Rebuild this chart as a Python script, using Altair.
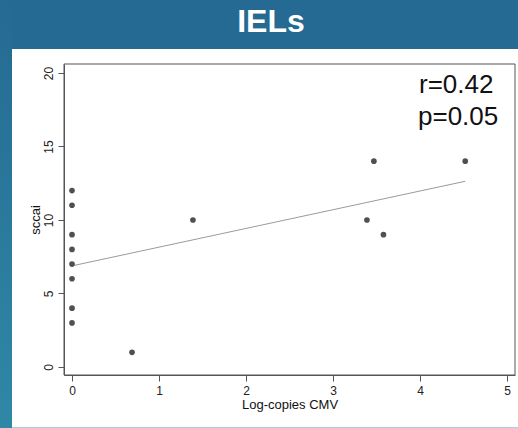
import altair as alt
import pandas as pd

# Data
log_copies_cmv = [0, 0, 0, 0, 0, 0, 0, 0, 0.69, 1.39, 3.39, 3.47, 3.58, 4.52]
sccai = [12, 11, 9, 8, 7, 6, 4, 3, 1, 10, 10, 14, 9, 14]
x_ticks = [0, 1, 2, 3, 4, 5]
y_ticks = [0, 5, 10, 15, 20]
stat_lines = ["r=0.42", "p=0.05"]
chart_title = "IELs"

df = pd.DataFrame({"x": log_copies_cmv, "y": sccai})

W, H = 451, 311
FONT = "Liberation Sans"

xscale = alt.Scale(domain=[-0.092, 5.092], nice=False, zero=False)
yscale = alt.Scale(domain=[-0.544, 20.61], nice=False, zero=False)

xaxis = alt.Axis(values=x_ticks, format="d", grid=False, domainColor="#555", tickColor="#555",
                 tickSize=6, labelFontSize=12, labelColor="#222", labelFont=FONT,
                 labelPadding=4, labelOverlap=False, labelFlush=False,
                 title="Log-copies CMV", titleFont=FONT, titleFontSize=13,
                 titleFontWeight="normal", titleColor="#111",
                 titleX=W / 2, titleY=29, titleBaseline="middle", zindex=1)
yaxis = alt.Axis(values=y_ticks, format="d", grid=False, domainColor="#555", tickColor="#555",
                 tickSize=6, labelFontSize=12, labelColor="#222", labelFont=FONT,
                 labelAngle=270, labelAlign="center", labelBaseline="bottom",
                 labelPadding=3, labelOverlap=False, labelFlush=False,
                 title="sccai", titleFont=FONT, titleFontSize=13,
                 titleFontWeight="normal", titleColor="#111",
                 titleX=-29, titleY=H / 2, titleAngle=270, titleAlign="center",
                 titleBaseline="middle", zindex=1)

one = alt.Data(values=[{"a": 1}])

left_strip = alt.Chart(one).mark_rect(
    color=alt.LinearGradient(gradient="linear", x1=0, x2=0, y1=0, y2=1,
                             stops=[alt.GradientStop(color="#256a92", offset=0),
                                    alt.GradientStop(color="#2f88a5", offset=1)])
).encode(x=alt.value(-64), x2=alt.value(-52), y=alt.value(-64), y2=alt.value(H + 53))

panel = alt.Chart(one).mark_rect(color="white").encode(
    x=alt.value(-52), x2=alt.value(W + 3), y=alt.value(-15), y2=alt.value(H + 52))

bottom_line = alt.Chart(one).mark_rect(color="#a9cfdc").encode(
    x=alt.value(-52), x2=alt.value(W + 3), y=alt.value(H + 52), y2=alt.value(H + 53))

frame = alt.Chart(one).mark_rect(fillOpacity=0, stroke="#555", strokeWidth=1).encode(
    x=alt.value(0), x2=alt.value(W), y=alt.value(0), y2=alt.value(H))

title = alt.Chart(one).mark_text(
    text=chart_title, font=FONT, fontSize=32, fontWeight="bold", color="white",
    align="center", baseline="middle"
).encode(x=alt.value(207), y=alt.value(-42.5))

points = alt.Chart(df).mark_circle(size=32, color="#505050", opacity=1).encode(
    x=alt.X("x:Q", scale=xscale, axis=xaxis),
    y=alt.Y("y:Q", scale=yscale, axis=yaxis),
)

fit = alt.Chart(df).transform_regression("x", "y").mark_line(
    color="#9a9a9a", strokeWidth=1
).encode(x=alt.X("x:Q", scale=xscale), y=alt.Y("y:Q", scale=yscale))

stat_r = alt.Chart(one).mark_text(
    text=stat_lines[0], font=FONT, fontSize=26, color="#111", align="left", baseline="middle"
).encode(x=alt.value(355), y=alt.value(21))
stat_p = alt.Chart(one).mark_text(
    text=stat_lines[1], font=FONT, fontSize=26, color="#111", align="left", baseline="middle"
).encode(x=alt.value(354), y=alt.value(53))

chart = alt.layer(
    left_strip, panel, bottom_line, frame, fit, points, stat_r, stat_p, title
).properties(
    width=W, height=H,
    background="#256a92",
    padding={"left": 64, "top": 64, "right": 3, "bottom": 53},
    autosize=alt.AutoSizeParams(type="none"),
).configure_view(stroke=None)

chart.save("out.html", embed_options={"renderer": "svg", "actions": False})
